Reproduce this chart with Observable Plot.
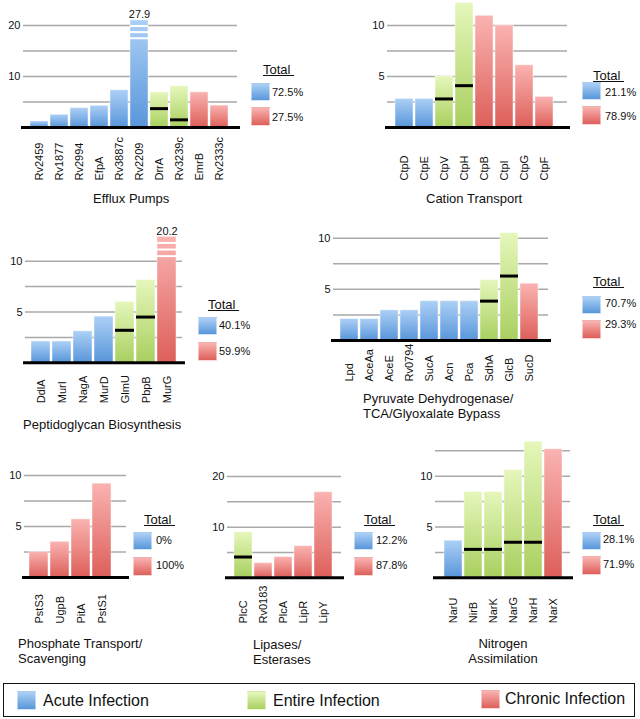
<!DOCTYPE html>
<html>
<head>
<meta charset="utf-8">
<script src="https://cdn.jsdelivr.net/npm/d3@7"></script>
<script src="https://cdn.jsdelivr.net/npm/@observablehq/plot@0.6"></script>
<style>
  html, body { margin: 0; padding: 0; background: #fff; }
  body { font-family: "Liberation Sans", Arial, Helvetica, sans-serif; color: #111; }
  #page { position: relative; width: 640px; height: 719px; overflow: hidden; background: #fff; }
  #page svg.panel { position: absolute; }
  .t { position: absolute; white-space: nowrap; }
  .sw { position: absolute; box-sizing: border-box; }
</style>
</head>
<body>
<svg width="0" height="0" style="position:absolute">
  <defs>
    <linearGradient id="gradA" x1="0" y1="0" x2="0" y2="1">
      <stop offset="0" stop-color="#acd0f6"/><stop offset="1" stop-color="#5996da"/>
    </linearGradient>
    <linearGradient id="gradE" x1="0" y1="0" x2="0" y2="1">
      <stop offset="0" stop-color="#e5f7bb"/><stop offset="1" stop-color="#a9cf5f"/>
    </linearGradient>
    <linearGradient id="gradC" x1="0" y1="0" x2="0" y2="1">
      <stop offset="0" stop-color="#fab3b1"/><stop offset="1" stop-color="#dd5f5a"/>
    </linearGradient>
  </defs>
</svg>
<div id="page"></div>
<script>
// ---------------- DATA ----------------
// group codes: A = Acute Infection, E = Entire Infection, C = Chronic Infection
const effluxTitle = ["Efflux Pumps"];
const effluxGenes = ["Rv2459", "Rv1877", "Rv2994", "EfpA", "Rv3887c", "Rv2209", "DrrA", "Rv3239c", "EmrB", "Rv2333c"];
const effluxValues = [1.2, 2.5, 3.8, 4.25, 7.3, 27.9, 6.9, 8.1, 6.9, 4.3];
const effluxGroups = ["A", "A", "A", "A", "A", "A", "E", "E", "C", "C"];
const effluxMarks = [null, null, null, null, null, null, 3.7, 1.5, null, null];
const effluxBreaks = [19.9, 18.7, 17.5];
const effluxTotals = ["72.5%", "27.5%"];

const cationTitle = ["Cation Transport"];
const cationGenes = ["CtpD", "CtpE", "CtpV", "CtpH", "CtpB", "CtpI", "CtpG", "CtpF"];
const cationValues = [2.8, 2.8, 5.0, 12.2, 10.95, 10.0, 6.1, 3.0];
const cationGroups = ["A", "A", "E", "E", "C", "C", "C", "C"];
const cationMarks = [null, null, 2.8, 4.1, null, null, null, null];
const cationBreaks = [];
const cationTotals = ["21.1%", "78.9%"];

const peptiTitle = ["Peptidoglycan Biosynthesis"];
const peptiGenes = ["DdlA", "MurI", "NagA", "MurD", "GlmU", "PbpB", "MurG"];
const peptiValues = [2.1, 2.1, 3.1, 4.55, 6.0, 8.15, 20.2];
const peptiGroups = ["A", "A", "A", "A", "E", "E", "C"];
const peptiMarks = [null, null, null, null, 3.2, 4.5, null];
const peptiBreaks = [11.8, 11.15, 10.5];
const peptiTotals = ["40.1%", "59.9%"];

const pyruvTitle = ["Pyruvate Dehydrogenase/", "TCA/Glyoxalate Bypass"];
const pyruvGenes = ["Lpd", "AceAa", "AceE", "Rv0794", "SucA", "Acn", "Pca", "SdhA", "GlcB", "SucD"];
const pyruvValues = [2.1, 2.1, 2.95, 2.95, 3.85, 3.85, 3.85, 5.9, 10.5, 5.55];
const pyruvGroups = ["A", "A", "A", "A", "A", "A", "A", "E", "E", "C"];
const pyruvMarks = [null, null, null, null, null, null, null, 3.85, 6.3, null];
const pyruvBreaks = [];
const pyruvTotals = ["70.7%", "29.3%"];

const phosTitle = ["Phosphate Transport/", "Scavenging"];
const phosGenes = ["PstS3", "UgpB", "PitA", "PstS1"];
const phosValues = [2.5, 3.5, 5.7, 9.2];
const phosGroups = ["C", "C", "C", "C"];
const phosMarks = [null, null, null, null];
const phosBreaks = [];
const phosTotals = ["0%", "100%"];

const lipTitle = ["Lipases/", "Esterases"];
const lipGenes = ["PlcC", "Rv0183", "PlcA", "LipR", "LipY"];
const lipValues = [9.0, 2.9, 4.1, 6.25, 16.9];
const lipGroups = ["E", "C", "C", "C", "C"];
const lipMarks = [4.1, null, null, null, null];
const lipBreaks = [];
const lipTotals = ["12.2%", "87.8%"];

const nitroTitle = ["Nitrogen", "Assimilation"];
const nitroGenes = ["NarU", "NirB", "NarK", "NarG", "NarH", "NarX"];
const nitroValues = [3.65, 8.45, 8.45, 10.6, 13.4, 12.65];
const nitroGroups = ["A", "E", "E", "E", "E", "C"];
const nitroMarks = [null, 2.8, 2.8, 3.5, 3.5, null];
const nitroBreaks = [];
const nitroTotals = ["28.1%", "71.9%"];

const legendCodes = ["A", "E", "C"];
const legendLabels = ["Acute Infection", "Entire Infection", "Chronic Infection"];
const totalLabel = "Total";

// ---------------- LAYOUT (positions only) ----------------
const gradCss = {
  A: "linear-gradient(to bottom, #acd0f6, #5996da)",
  E: "linear-gradient(to bottom, #e5f7bb, #a9cf5f)",
  C: "linear-gradient(to bottom, #fab3b1, #dd5f5a)"
};
const FONT = '"Liberation Sans", Arial, Helvetica, sans-serif';
const page = document.getElementById("page");

function baselineTop(size, lh, baseline) {
  return baseline - ((lh - size * 1.117) / 2 + 0.905 * size);
}
function addText(str, left, baseline, size, extra = "") {
  const lh = size + 2;
  const el = document.createElement("div");
  el.className = "t";
  el.textContent = str;
  el.style.cssText += `left:${left}px;top:${baselineTop(size, lh, baseline)}px;font-size:${size}px;line-height:${lh}px;${extra}`;
  page.appendChild(el);
  return el;
}
function addSwatch(code, left, top, w, h) {
  const el = document.createElement("div");
  el.className = "sw";
  el.style.cssText += `left:${left}px;top:${top}px;width:${w}px;height:${h}px;background:${gradCss[code]};border:1px solid rgba(255,255,255,0.5);`;
  page.appendChild(el);
}
function addTitle(lines, left, baseline, center) {
  const lh = 15, size = 13;
  const el = document.createElement("div");
  el.className = "t";
  lines.forEach((ln, i) => {
    if (i) el.appendChild(document.createElement("br"));
    el.appendChild(document.createTextNode(ln));
  });
  const x = center ? left - 80 : left;
  el.style.cssText += `left:${x}px;top:${baselineTop(size, lh, baseline)}px;font-size:${size}px;line-height:${lh}px;` +
    (center ? "width:160px;text-align:center;" : "");
  page.appendChild(el);
}

function panel(genes, values, groups, marks, breaks, totals, title, L) {
  const [left, top, w, h] = L.box;
  const data = genes.map((g, i) => ({gene: g, value: values[i], group: groups[i], mark: marks[i]}));
  const capped = data.filter(d => d.value > L.yMax);
  const breakData = capped.length ? breaks.map(b => ({gene: capped[0].gene, v: b})) : [];
  const z = L.zeroY - top;
  const bars = ["A", "E", "C"].map(k =>
    Plot.barY(data.filter(d => d.group === k), {
      x: "gene", y: "value", fill: `url(#grad${k})`,
      stroke: "#ffffff", strokeOpacity: 0.45, strokeWidth: 1
    })
  );
  const svg = Plot.plot({
    width: w, height: h,
    marginLeft: L.gridX[0] - left, marginRight: left + w - L.gridX[1],
    marginTop: 0, marginBottom: 0,
    x: {type: "band", domain: genes, range: [L.bandX[0] - left, L.bandX[1] - left], padding: 0.1, axis: null},
    y: {type: "linear", domain: [0, L.yMax], range: [z, z - L.yMax * L.ppu], clamp: true, axis: null},
    style: {background: "transparent", fontFamily: FONT, fontSize: "11px", color: "#111", overflow: "visible"},
    marks: [
      Plot.ruleY(L.grid, {stroke: "#a9a9a9", strokeWidth: 1.5}),
      ...bars,
      Plot.tickY(data.filter(d => d.mark != null), {x: "gene", y: "mark", stroke: "#000", strokeWidth: 3}),
      Plot.tickY(breakData, {x: "gene", y: "v", stroke: "#ffffff", strokeWidth: 2}),
      Plot.ruleY([0], {stroke: "#000", strokeWidth: 3, insetLeft: -2, insetRight: -3}),
      Plot.text(L.ticks, {y: d => d, text: d => String(d), frameAnchor: "left", textAnchor: "end", dx: -3, fontSize: 11, fill: "#111"}),
      Plot.text(data, {x: "gene", y: () => 0, text: "gene", rotate: -90, textAnchor: "start", lineAnchor: "middle",
        dy: L.labelBottom - L.zeroY, fontSize: 11, fill: "#111"}),
      Plot.text(capped, {x: "gene", y: "value", text: d => d.value.toFixed(1), lineAnchor: "bottom", dy: -2, fontSize: 11, fill: "#111"})
    ]
  });
  svg.classList.add("panel");
  svg.style.left = left + "px";
  svg.style.top = top + "px";
  page.appendChild(svg);

  // title
  addTitle(title, L.title[0], L.title[1], L.title[2]);
  // "Total" legend
  const [tl, tb, sx, sy1, sy2, px, pb1, pb2] = L.total;
  addText(totalLabel + "\u00a0", tl, tb, 13, "text-decoration:underline;");
  addSwatch("A", sx, sy1, 19, 18);
  addSwatch("C", sx, sy2, 19, 19);
  addText(totals[0], px, pb1, 11);
  addText(totals[1], px, pb2, 11);
}

const layouts = {
  efflux: {box: [0, 0, 245, 186], zeroY: 127, ppu: 5.1, yMax: 21, gridX: [23, 237], bandX: [23, 234],
    grid: [5, 10, 15, 20], ticks: [10, 20], labelBottom: 180, title: [93, 202.7, false],
    total: [263, 74, 251, 83, 107, 272, 96.7, 121.7]},
  cation: {box: [360, 0, 215, 186], zeroY: 127, ppu: 10.2, yMax: 12.5, gridX: [387, 567], bandX: [389, 558],
    grid: [2.5, 5, 7.5, 10], ticks: [5, 10], labelBottom: 180, title: [426, 203.3, false],
    total: [593, 80, 582, 82, 106, 605, 96.7, 120.5]},
  pepti: {box: [0, 220, 190, 188], zeroY: 362.3, ppu: 10.16, yMax: 12.4, gridX: [25, 182], bandX: [27, 180],
    grid: [2.5, 5, 7.5, 10], ticks: [5, 10], labelBottom: 402.7, title: [23, 429, false],
    total: [208, 309, 198, 317, 342, 219, 329.3, 355.7]},
  pyruv: {box: [315, 225, 240, 160], zeroY: 340, ppu: 10.23, yMax: 11, gridX: [333, 548], bandX: [334, 544],
    grid: [2.5, 5, 7.5, 10], ticks: [5, 10], labelBottom: 381, title: [363, 403.3, false],
    total: [593, 286, 582, 296, 319.5, 605, 307.3, 328.5]},
  phos: {box: [0, 465, 135, 162], zeroY: 577, ppu: 10.2, yMax: 10, gridX: [24, 126], bandX: [26, 114],
    grid: [2.5, 5, 7.5, 10], ticks: [5, 10], labelBottom: 623, title: [18, 648.3, false],
    total: [144, 524, 133, 532, 557, 156, 544, 569.3]},
  lip: {box: [200, 465, 150, 162], zeroY: 577.3, ppu: 5.065, yMax: 20, gridX: [227, 341], bandX: [230, 336],
    grid: [5, 10, 15, 20], ticks: [10, 20], labelBottom: 623, title: [253, 649, false],
    total: [364, 524, 354, 532, 557, 376, 544, 569]},
  nitro: {box: [405, 435, 172, 192], zeroY: 577.3, ppu: 10.16, yMax: 13.5, gridX: [435, 570], bandX: [440, 565],
    grid: [2.5, 5, 7.5, 10, 12.5], ticks: [5, 10], labelBottom: 622.7, title: [503, 648.3, true],
    total: [593, 524, 582, 532, 556, 603, 543.3, 568.3]}
};

panel(effluxGenes, effluxValues, effluxGroups, effluxMarks, effluxBreaks, effluxTotals, effluxTitle, layouts.efflux);
panel(cationGenes, cationValues, cationGroups, cationMarks, cationBreaks, cationTotals, cationTitle, layouts.cation);
panel(peptiGenes, peptiValues, peptiGroups, peptiMarks, peptiBreaks, peptiTotals, peptiTitle, layouts.pepti);
panel(pyruvGenes, pyruvValues, pyruvGroups, pyruvMarks, pyruvBreaks, pyruvTotals, pyruvTitle, layouts.pyruv);
panel(phosGenes, phosValues, phosGroups, phosMarks, phosBreaks, phosTotals, phosTitle, layouts.phos);
panel(lipGenes, lipValues, lipGroups, lipMarks, lipBreaks, lipTotals, lipTitle, layouts.lip);
panel(nitroGenes, nitroValues, nitroGroups, nitroMarks, nitroBreaks, nitroTotals, nitroTitle, layouts.nitro);

// bottom legend box
const box = document.createElement("div");
box.style.cssText = "position:absolute;left:3px;top:683px;width:632px;height:34px;box-sizing:border-box;border:1.5px solid #111;";
page.appendChild(box);
const legendPos = [[17, 691, 43, 706.3], [247, 691, 273, 706.3], [481, 690, 505, 704.7]];
legendCodes.forEach((c, i) => {
  const [sx, sy, tx, tb] = legendPos[i];
  addSwatch(c, sx, sy, 19, 19);
  addText(legendLabels[i], tx, tb, 16);
});
</script>
</body>
</html>
